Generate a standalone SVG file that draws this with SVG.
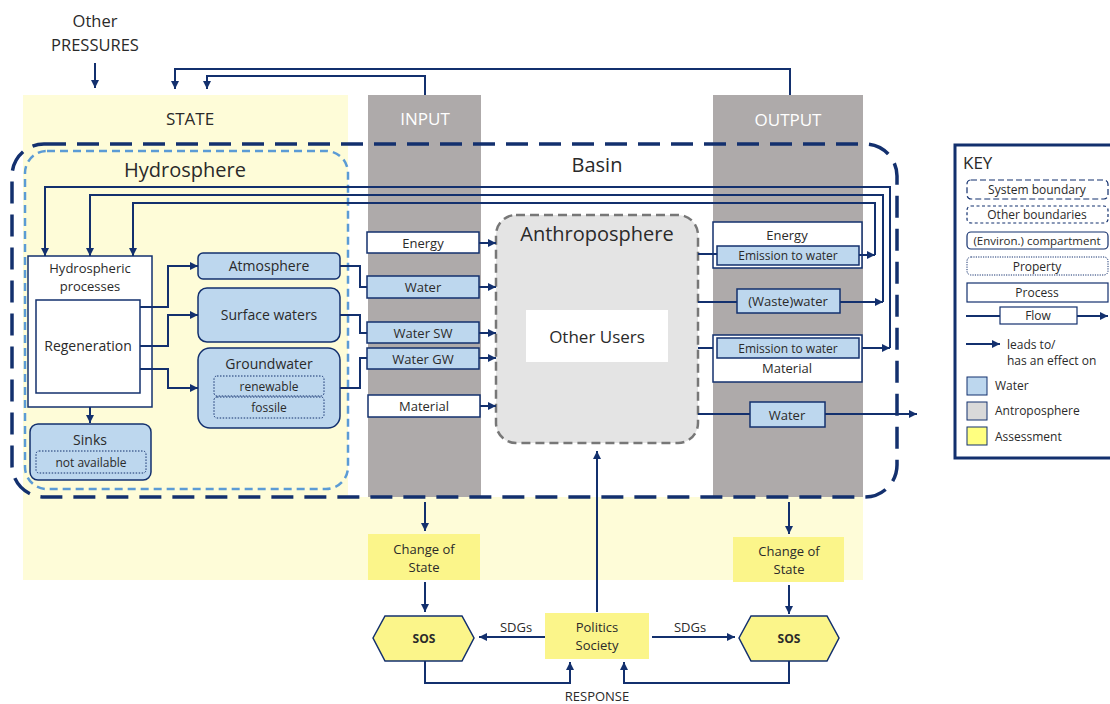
<svg xmlns="http://www.w3.org/2000/svg" width="1110" height="704" viewBox="0 0 1110 704">
<defs>
<marker id="ah" viewBox="0 0 10 10" refX="10" refY="5" markerWidth="8" markerHeight="8" markerUnits="userSpaceOnUse" orient="auto"><path d="M0,0 L10,5 L0,10 z" fill="#13306e"/></marker>
<style>
text{font-family:"Open Sans","Noto Sans",sans-serif;fill:#2a2a2a;text-anchor:middle}
.c{fill:none;stroke:#13306e;stroke-width:2}
.w{fill:#bdd7ee;stroke:#13306e;stroke-width:1.5}
.p{fill:#fff;stroke:#13306e;stroke-width:1.5}
.pr{fill:#bdd7ee;stroke:#13306e;stroke-width:1;stroke-dasharray:1.5 1.5}
.y{fill:#fbf58a}
.t13{font-size:13px}
.t12{font-size:12px}
.t11{font-size:12px}
</style>
</defs>
<rect width="1110" height="704" fill="#fff"/>
<rect x="23" y="95" width="325" height="402" fill="#fefcd8"/>
<rect x="23" y="497" width="840" height="83" fill="#fefcd8"/>
<rect x="368" y="95" width="113" height="402" fill="#aeaaaa"/>
<rect x="713" y="95" width="150" height="402" fill="#aeaaaa"/>
<text x="95" y="27" font-size="16.5">Other</text>
<text x="95" y="51" font-size="16.5">PRESSURES</text>
<text x="190" y="125" font-size="17">STATE</text>
<text x="425" y="125" font-size="17" style="fill:#fff">INPUT</text>
<text x="788" y="126" font-size="17" style="fill:#fff">OUTPUT</text>
<g id="basin">
<rect x="12" y="144" width="885" height="353" rx="32" fill="none" stroke="#13306e" stroke-width="3.5" stroke-dasharray="22 11"/>
<text x="597" y="172" font-size="20">Basin</text>
</g>
<g id="hydrosphere">
<rect x="25" y="151" width="323" height="338" rx="22" fill="none" stroke="#5b9bd5" stroke-width="2.5" stroke-dasharray="8 5"/>
<text x="185" y="177" font-size="20">Hydrosphere</text>
</g>
<g id="hydro-processes">
<rect x="28" y="256" width="124" height="151" class="p" stroke-width="1.2"/>
<text x="90" y="273" class="t13">Hydrospheric</text>
<text x="90" y="291" class="t13">processes</text>
</g>
<g id="regeneration">
<rect x="36" y="300" width="104" height="93" class="p"/>
<text x="88" y="351" font-size="14">Regeneration</text>
</g>
<g id="sinks">
<rect x="30" y="424" width="121" height="56" rx="8" class="w"/>
<text x="90" y="445" font-size="14">Sinks</text>
<rect x="36" y="451" width="110" height="22" rx="3" class="pr"/>
<text x="91" y="467" class="t12">not available</text>
</g>
<g id="atmosphere">
<rect x="198" y="253" width="142" height="26" rx="5" class="w"/>
<text x="269" y="271" font-size="14">Atmosphere</text>
</g>
<g id="surface-waters">
<rect x="198" y="288" width="142" height="54" rx="9" class="w"/>
<text x="269" y="320" font-size="14">Surface waters</text>
</g>
<g id="groundwater">
<rect x="198" y="348" width="142" height="80" rx="12" class="w"/>
<text x="269" y="369" font-size="14">Groundwater</text>
<rect x="214" y="376" width="110" height="20" rx="3" class="pr"/>
<text x="269" y="391" class="t12">renewable</text>
<rect x="214" y="397" width="110" height="21" rx="3" class="pr"/>
<text x="269" y="412" class="t12">fossile</text>
</g>
<g id="in-energy"><rect x="367" y="232" width="112" height="21" class="p"/><text x="423" y="248" class="t13">Energy</text></g>
<g id="in-water"><rect x="367" y="276" width="112" height="22" class="w"/><text x="423" y="292" class="t13">Water</text></g>
<g id="in-water-sw"><rect x="367" y="322" width="112" height="21" class="w"/><text x="423" y="338" class="t13">Water SW</text></g>
<g id="in-water-gw"><rect x="367" y="348" width="112" height="21" class="w"/><text x="423" y="364" class="t13">Water GW</text></g>
<g id="in-material"><rect x="368" y="395" width="112" height="22" class="p"/><text x="424" y="411" class="t13">Material</text></g>
<g id="anthroposphere">
<rect x="496" y="215" width="202" height="228" rx="20" fill="#e4e4e4" stroke="#777" stroke-width="2.5" stroke-dasharray="9 5"/>
<text x="597" y="241" font-size="20">Anthroposphere</text>
<rect x="526" y="310" width="142" height="52" fill="#fff"/>
<text x="597" y="343" font-size="17">Other Users</text>
</g>
<g id="out-energy">
<rect x="713" y="222" width="149" height="46" class="p"/>
<text x="787" y="240" class="t13">Energy</text>
<rect x="717" y="246" width="142" height="19" class="w"/>
<text x="788" y="260" class="t12">Emission to water</text>
</g>
<g id="out-wastewater"><rect x="737" y="289" width="103" height="24" class="w"/><text x="788" y="306" class="t13">(Waste)water</text></g>
<g id="out-material">
<rect x="713" y="335" width="149" height="47" class="p"/>
<rect x="717" y="338" width="142" height="20" class="w"/>
<text x="788" y="353" class="t12">Emission to water</text>
<text x="787" y="373" class="t13">Material</text>
</g>
<g id="out-water"><rect x="750" y="402" width="75" height="25" class="w"/><text x="787" y="420" class="t13">Water</text></g>
<g id="change-left"><rect x="368" y="534" width="112" height="46" class="y"/><text x="424" y="554" class="t13">Change of</text><text x="424" y="572" class="t13">State</text></g>
<g id="change-right"><rect x="733" y="537" width="111" height="45" class="y"/><text x="789" y="556" class="t13">Change of</text><text x="789" y="574" class="t13">State</text></g>
<g id="sos-left"><polygon points="373,638 385,616 462,616 474,638 462,661 385,661" fill="#fbf58a" stroke="#13306e" stroke-width="1.5"/><text x="424" y="643" font-size="12" font-weight="bold">SOS</text></g>
<g id="sos-right"><polygon points="739,638 751,616 827,616 839,638 827,661 751,661" fill="#fbf58a" stroke="#13306e" stroke-width="1.5"/><text x="789" y="643" font-size="12" font-weight="bold">SOS</text></g>
<g id="politics"><rect x="545" y="613" width="104" height="46" class="y"/><text x="597" y="632" class="t13">Politics</text><text x="597" y="650" class="t13">Society</text></g>
<g id="connectors">
<path class="c" d="M95,63 V88" marker-end="url(#ah)"/>
<path class="c" d="M790,95 V69 H175 V89" marker-end="url(#ah)"/>
<path class="c" d="M425,95 V76 H207 V89" marker-end="url(#ah)"/>
<path class="c" d="M875,255 V203 H133 V256" marker-end="url(#ah)"/>
<path class="c" d="M883,302 V195 H90 V256" marker-end="url(#ah)"/>
<path class="c" d="M890,348 V187 H45 V256" marker-end="url(#ah)"/>
<path class="c" d="M859,255 H875" marker-end="url(#ah)"/>
<path class="c" d="M840,302 H883" marker-end="url(#ah)"/>
<path class="c" d="M862,348 H890" marker-end="url(#ah)"/>
<path class="c" d="M140,307 H168 V266 H198" marker-end="url(#ah)"/>
<path class="c" d="M140,346 H168 V315 H198" marker-end="url(#ah)"/>
<path class="c" d="M140,369 H168 V388 H198" marker-end="url(#ah)"/>
<path class="c" d="M90,407 V423" marker-end="url(#ah)"/>
<path class="c" d="M340,266 H360 V287 H367"/>
<path class="c" d="M340,315 H360 V333 H367"/>
<path class="c" d="M340,388 H360 V358 H367"/>
<path class="c" d="M479,243 H496" marker-end="url(#ah)"/>
<path class="c" d="M479,287 H496" marker-end="url(#ah)"/>
<path class="c" d="M479,333 H496" marker-end="url(#ah)"/>
<path class="c" d="M479,358 H496" marker-end="url(#ah)"/>
<path class="c" d="M480,406 H496" marker-end="url(#ah)"/>
<path class="c" d="M698,254 H717"/>
<path class="c" d="M698,302 H737"/>
<path class="c" d="M698,348 H713"/>
<path class="c" d="M698,414 H750"/>
<path class="c" d="M825,414 H917" marker-end="url(#ah)"/>
<path class="c" d="M597,612 V451" marker-end="url(#ah)"/>
<path class="c" d="M425,502 V531" marker-end="url(#ah)"/>
<path class="c" d="M789,502 V534" marker-end="url(#ah)"/>
<path class="c" d="M425,582 V612" marker-end="url(#ah)"/>
<path class="c" d="M789,585 V614" marker-end="url(#ah)"/>
<path class="c" d="M545,637 H479" marker-end="url(#ah)"/>
<path class="c" d="M652,637 H735" marker-end="url(#ah)"/>
<path class="c" d="M425,661 V683 H570 V662" marker-end="url(#ah)"/>
<path class="c" d="M789,661 V683 H624 V662" marker-end="url(#ah)"/>
</g>
<text x="516" y="632" class="t13">SDGs</text>
<text x="690" y="632" class="t13">SDGs</text>
<text x="597" y="701" class="t13">RESPONSE</text>
<g id="key">
<rect x="955" y="145" width="170" height="313" fill="#fff" stroke="#13306e" stroke-width="3"/>
<text x="963" y="169" font-size="17" style="text-anchor:start">KEY</text>
<rect x="967" y="180" width="141" height="19" rx="4" fill="none" stroke="#13306e" stroke-width="1.2" stroke-dasharray="6 3"/>
<text x="1037" y="194" class="t11">System boundary</text>
<rect x="967" y="206" width="141" height="17" rx="4" fill="none" stroke="#13306e" stroke-width="1.2" stroke-dasharray="3 2.5"/>
<text x="1037" y="219" class="t11">Other boundaries</text>
<rect x="967" y="232" width="141" height="17" rx="4" fill="none" stroke="#13306e" stroke-width="1.2"/>
<text x="1037" y="245" font-size="11.5">(Environ.) compartment</text>
<rect x="967" y="257" width="141" height="18" rx="4" fill="none" stroke="#13306e" stroke-width="1" stroke-dasharray="1.2 1.2"/>
<text x="1037" y="271" class="t11">Property</text>
<rect x="967" y="283" width="141" height="19" fill="none" stroke="#13306e" stroke-width="1.2"/>
<text x="1037" y="297" class="t11">Process</text>
<path class="c" d="M966,316 H1000" stroke-width="1.2"/>
<rect x="1000" y="307" width="77" height="17" fill="none" stroke="#13306e" stroke-width="1.2"/>
<text x="1038" y="320" class="t11">Flow</text>
<path class="c" d="M1077,316 H1108" stroke-width="1.2" marker-end="url(#ah)"/>
<path class="c" d="M966,344 H1000" stroke-width="1.2" marker-end="url(#ah)"/>
<text x="1007" y="349" class="t11" style="text-anchor:start">leads to/</text>
<text x="1007" y="365" class="t11" style="text-anchor:start">has an effect on</text>
<rect x="967" y="377" width="20" height="18" fill="#bdd7ee" stroke="#13306e" stroke-width="1"/>
<text x="995" y="390" class="t11" style="text-anchor:start">Water</text>
<rect x="967" y="402" width="20" height="18" fill="#d9d9d9" stroke="#13306e" stroke-width="1"/>
<text x="995" y="415" class="t11" style="text-anchor:start">Antroposphere</text>
<rect x="967" y="427" width="20" height="18" fill="#ffff80" stroke="#13306e" stroke-width="1"/>
<text x="995" y="441" class="t11" style="text-anchor:start">Assessment</text>
</g>
</svg>
